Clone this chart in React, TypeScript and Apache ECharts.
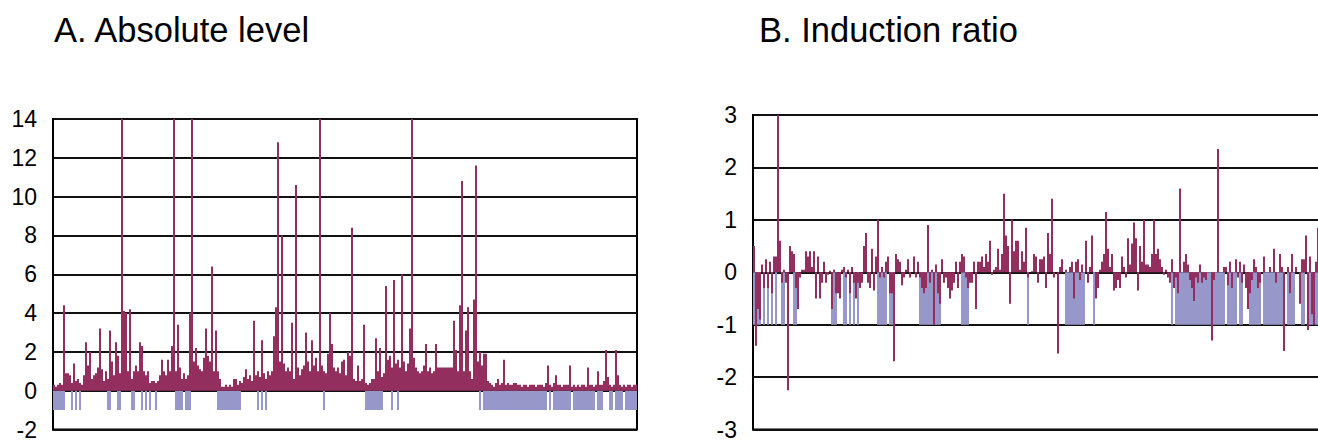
import React, { useEffect, useRef } from "react";
import * as echarts from "echarts";

const absTitle = "A. Absolute level";
const ratioTitle = "B. Induction ratio";

const absTickValues = [-2, 0, 2, 4, 6, 8, 10, 12, 14];
const ratioTickValues = [-3, -2, -1, 0, 1, 2, 3];

// A. Absolute level, genes 0-99
const absPart1 = [
  0.3, 0.2, 0.3, 0.4, 0.3, 4.4, 0.9, 0.9, 0.8, 0.4,
  1.4, 0.5, 0.6, 0.4, 0.3, 0.8, 2.5, 1.3, 2.0, 0.6,
  0.8, 0.9, 1.2, 3.2, 1.1, 0.5, 1.0, 0.6, 3.1, 1.5,
  0.8, 2.5, 1.8, 0.9, 14, 4.1, 4.0, 1.0, 4.2, 0.6,
  1.0, 1.3, 1.0, 2.5, 2.3, 1.0, 0.8, 1.0, 0.4, 0.5,
  0.5, 0.4, 0.5, 0.8, 1.6, 1.0, 0.8, 1.6, 1.0, 2.3,
  14, 1.0, 3.4, 1.2, 0.6, 0.9, 0.6, 0.8, 4.0, 14,
  1.5, 2.2, 1.3, 1.1, 1.0, 1.7, 3.2, 1.8, 1.5, 6.4,
  1.0, 3.1, 1.0, 0.6, 0.2, 0.2, 0.3, 0.2, 0.3, 0.2,
  0.6, 0.6, 0.3, 0.5, 0.4, 0.7, 1.1, 0.6, 0.8, 0.5,
];
// genes 100-199
const absPart2 = [
  3.6, 0.8, 1.0, 0.7, 2.6, 0.9, 0.6, 1.0, 0.8, 1.0,
  2.8, 4.3, 12.8, 1.5, 8.0, 1.4, 1.0, 1.2, 1.0, 3.5,
  0.6, 10.6, 1.2, 0.8, 1.1, 1.3, 3.0, 1.5, 1.0, 2.6,
  1.3, 1.7, 1.0, 14, 1.3, 1.0, 0.9, 1.9, 4.0, 2.4,
  1.2, 1.0, 1.2, 0.9, 1.5, 1.6, 0.8, 2.0, 1.8, 8.4,
  0.6, 0.5, 1.3, 0.5, 0.6, 3.4, 0.4, 0.3, 0.4, 0.6,
  0.6, 2.7, 1.0, 2.2, 0.7, 0.9, 5.4, 1.6, 1.8, 1.2,
  5.7, 1.4, 1.6, 1.2, 6.0, 1.5, 1.0, 1.4, 3.2, 14,
  1.7, 1.2, 1.0, 0.9, 1.0, 1.3, 2.4, 1.0, 1.2, 0.9,
  1.0, 2.4, 1.2, 1.2, 1.2, 1.2, 1.2, 1.2, 1.2, 1.2,
];
// genes 200-291
const absPart3 = [
  3.6, 2.1, 1.0, 4.4, 10.8, 1.0, 3.1, 4.3, 1.0, 0.6,
  4.7, 11.6, 1.5, 2.0, 1.3, 1.9, 1.9, 0.5, 0.4, 0.3,
  0.2, 0.4, 0.6, 0.3, 0.4, 1.6, 0.3, 0.4, 0.3, 0.3,
  0.4, 0.4, 0.3, 0.3, 0.2, 0.3, 0.3, 0.2, 0.3, 0.3,
  0.3, 0.2, 0.3, 0.3, 0.3, 0.2, 0.4, 1.3, 0.3, 0.2,
  0.4, 0.8, 0.3, 0.3, 0.2, 0.3, 0.3, 0.3, 1.3, 0.2,
  0.3, 0.2, 0.3, 0.2, 0.3, 0.3, 0.2, 1.2, 0.3, 0.3,
  0.2, 0.3, 1.0, 0.3, 0.3, 0.5, 2.1, 0.7, 0.3, 0.2,
  0.3, 2.1, 0.8, 0.3, 0.2, 0.3, 0.2, 0.3, 0.3, 0.2,
  0.3, 0.3,
];
// genes flagged (drawn at -1), as [first, last] gene index
const absFlagRanges = [
  [0, 5], [9, 9], [11, 11], [13, 13], [27, 28], [32, 33], [39, 40], [44, 44],
  [46, 46], [48, 48], [51, 51], [61, 64], [66, 68], [82, 93], [102, 102],
  [104, 104], [106, 106], [135, 135], [156, 164], [169, 169], [172, 172],
  [213, 213], [215, 246], [248, 248], [250, 258], [260, 270], [272, 274],
  [278, 279], [281, 284], [286, 291],
];

// B. Induction ratio, genes 0-99
const ratioPart1 = [
  0.5, -1.4, -0.7, -0.9, 0.15, -0.3, 0.25, -0.3, 0.2, -0.4,
  0.3, 0.3, 3.1, 0.6, -0.2, 0.05, -0.2, -2.25, 0.5, 0.4,
  0.35, -0.3, -0.7, -0.1, 0.05, 0.05, 0.4, 0.3, 0.4, 0.1,
  0.4, -0.5, 0.3, -0.5, -0.2, 0.2, -0.2, -0.05, 0.03, -0.7,
  0.05, -0.4, -0.4, -0.5, 0.05, 0.1, -0.1, 0.05, -0.4, 0.1,
  -0.2, -0.5, -0.2, -0.3, -0.2, 0.5, 0.75, -0.2, -0.3, 0.45,
  -0.35, 0.3, 1.0, -0.1, 0.1, -0.1, 0.2, 0.3, -0.4, -0.4,
  -1.7, 0.35, 0.25, 0.2, -0.25, -0.1, 0.05, 0.25, -0.1, 0.0,
  0.3, -0.1, 0.2, -0.1, -0.3, -0.4, -0.3, 0.9, -0.2, 0.05,
  -1.0, 0.15, -0.4, -0.6, 0.25, -0.2, -0.1, -0.3, -0.5, -0.35,
];
// genes 100-199
const ratioPart2 = [
  -0.2, 0.2, -0.3, 0.2, 0.35, 0.3, -0.1, -0.3, -0.2, -0.2,
  0.2, -0.7, 0.2, 0.2, 0.3, 0.1, 0.35, 0.2, 0.6, -0.05,
  0.05, 0.1, 0.45, 0.05, 0.35, 1.5, 0.7, 0.5, -0.6, 1.0,
  0.4, 0.6, 0.6, 0.05, 0.4, 0.2, 0.85, -0.1, 0.0, 0.02,
  0.35, 0.3, -0.2, 0.25, 0.25, 0.3, -0.3, 0.75, 0.35, 1.4,
  -0.1, 0.0, -1.55, 0.1, 0.25, 0.0, 0.05, 0.0, 0.1, 0.2,
  -0.5, 0.2, 0.25, -0.15, 0.15, 0.0, 0.6, -0.2, 0.1, 0.7,
  0.0, -0.5, -0.3, 0.05, 0.2, 0.35, 1.15, 0.45, 0.1, 0.35,
  -0.35, -0.3, -0.15, -0.3, 0.3, 0.1, -0.1, 0.65, 0.15, 0.55,
  0.95, 0.65, -0.35, 0.5, 0.2, 1.0, 0.15, 0.15, 0.1, 0.35,
];
// genes 200-291
const ratioPart3 = [
  1.0, 0.35, 0.45, 0.25, 0.1, -0.05, 0.05, -0.1, -0.2, 0.25,
  -0.3, -0.1, -0.4, 1.6, 0.0, 0.2, 0.35, 0.15, -0.15, -0.3,
  -0.55, -0.1, -0.2, 0.15, -0.2, -0.1, -0.15, 0.0, 0.0, -1.3,
  -0.15, 0.0, 2.35, 0.0, 0.0, 0.1, 0.1, -0.25, 0.2, -0.3,
  0.0, 0.25, -0.1, 0.2, -0.2, 0.15, -0.3, -0.7, -0.4, -0.15,
  0.25, 0.1, -0.3, -0.2, 0.0, 0.3, 0.0, 0.0, 0.1, 0.0,
  0.45, -0.2, 0.0, 0.35, 0.1, -1.5, 0.0, 0.1, -0.4, 0.35,
  0.0, 0.1, 0.0, -0.6, 0.25, 0.25, 0.7, -1.1, 0.3, -0.8,
  -1.0, 0.2, 0.85, 0.3, -0.2, 0.4, 0.1, -0.3, 0.5, 0.2,
  -0.1, 0.3,
];
const ratioFlagRanges = [
  [0, 3], [5, 5], [7, 7], [9, 9], [11, 11], [14, 15], [20, 21], [39, 41],
  [45, 46], [48, 48], [50, 50], [52, 52], [62, 66], [68, 70], [83, 93],
  [104, 107], [137, 137], [156, 165], [170, 170], [209, 209], [211, 235],
  [237, 241], [243, 244], [248, 253], [255, 265], [267, 270], [274, 275],
  [277, 279], [281, 291],
];
const flagValue = -1;

const MAROON = "#922f5f";
const LAVENDER = "#9797ca";
const FONT = "'Liberation Sans', Arial, sans-serif";

function expandFlags(n: number, ranges: number[][]) {
  const out: (number | null)[] = new Array(n).fill(null);
  ranges.forEach(([a, b]) => {
    for (let i = a; i <= b && i < n; i++) out[i] = flagValue;
  });
  return out;
}

export default function App() {
  const ref = useRef<HTMLDivElement>(null);

  useEffect(() => {
    if (!ref.current) return;
    const chart = echarts.init(ref.current, undefined, { renderer: "svg" });

    const absValues = [...absPart1, ...absPart2, ...absPart3];
    const ratioValues = [...ratioPart1, ...ratioPart2, ...ratioPart3];
    const genes = absValues.map((_, i) => String(i + 1));
    const absFlags = expandFlags(genes.length, absFlagRanges);
    const ratioFlags = expandFlags(genes.length, ratioFlagRanges);

    const yAxisBase = (ticks: number[], gridIndex: number) => ({
      type: "value" as const,
      gridIndex,
      min: ticks[0],
      max: ticks[ticks.length - 1],
      interval: ticks[1] - ticks[0],
      axisLine: { show: true, lineStyle: { color: "#000", width: 2 } },
      axisTick: { show: false },
      axisLabel: { fontSize: 23, color: "#000", margin: 16, fontFamily: FONT },
      splitLine: { show: true, lineStyle: { color: "#111", width: 2 } },
    });

    const xAxisBase = (gridIndex: number) => ({
      type: "category" as const,
      gridIndex,
      data: genes,
      show: false,
    });

    const titleStyle = {
      fontSize: 34.5,
      fontWeight: "normal" as const,
      color: "#000",
      fontFamily: FONT,
    };

    chart.setOption({
      animation: false,
      backgroundColor: "#fff",
      title: [
        { text: absTitle, left: 54, top: 12, textStyle: titleStyle, padding: 0 },
        { text: ratioTitle, left: 759, top: 12, textStyle: titleStyle, padding: 0 },
      ],
      grid: [
        { left: 53, top: 119, width: 584, height: 315, show: true, borderColor: "#000", borderWidth: 2, backgroundColor: "transparent" },
        { left: 753, top: 115, width: 584, height: 318, show: true, borderColor: "#000", borderWidth: 2, backgroundColor: "transparent" },
      ],
      xAxis: [xAxisBase(0), xAxisBase(0), xAxisBase(1), xAxisBase(1)],
      yAxis: [yAxisBase(absTickValues, 0), yAxisBase(ratioTickValues, 1)],
      series: [
        { type: "bar", xAxisIndex: 1, yAxisIndex: 0, data: absFlags, barWidth: 2, itemStyle: { color: LAVENDER }, z: 2 },
        { type: "bar", xAxisIndex: 0, yAxisIndex: 0, data: absValues, barWidth: 2, itemStyle: { color: MAROON }, z: 3 },
        { type: "bar", xAxisIndex: 3, yAxisIndex: 1, data: ratioFlags, barWidth: 2, itemStyle: { color: LAVENDER }, z: 2 },
        { type: "bar", xAxisIndex: 2, yAxisIndex: 1, data: ratioValues, barWidth: 2, itemStyle: { color: MAROON }, z: 3 },
      ],
    });

    return () => chart.dispose();
  }, []);

  return (
    <div style={{ position: "absolute", left: 0, top: 0, width: 1318, height: 441, overflow: "hidden", background: "#fff" }}>
      <div ref={ref} style={{ width: 1350, height: 441 }} />
    </div>
  );
}
